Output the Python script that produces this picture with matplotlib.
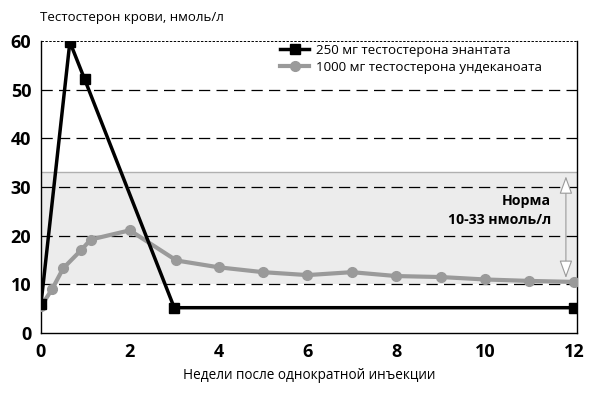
import matplotlib
matplotlib.use("Agg")
import matplotlib.pyplot as plt

plt.rcParams['font.family'] = ['Open Sans', 'DejaVu Sans']

# данные
weeks_enanthate = [0, 0.65, 0.98, 3.0, 12.0]
t_enanthate = [6.0, 59.8, 52.2, 5.2, 5.2]

weeks_undecanoate = [0, 0.25, 0.5, 0.9, 1.12, 2.0, 3.05, 4.0, 5.0, 6.0, 7.0, 8.0, 9.0, 10.0, 11.0, 12.0]
t_undecanoate = [5.5, 9.0, 13.3, 17.0, 19.2, 21.1, 14.9, 13.5, 12.5, 11.9, 12.5, 11.7, 11.5, 11.0, 10.7, 10.5]

label_enanthate = "250 мг тестостерона энантата"
label_undecanoate = "1000 мг тестостерона ундеканоата"
norm_low, norm_high = 10, 33

fig = plt.figure(figsize=(6.02, 3.94), dpi=100)
ax = fig.add_axes([41/602, 1 - 333/394, (577-41)/602, (333-41)/394])

ax.set_xlim(0, 12.07)
ax.set_ylim(0, 60)

# зона нормы
ax.axhspan(norm_low, norm_high, facecolor='#ececec', edgecolor='none', zorder=0)
ax.axhline(norm_high, color='#b0b0b0', lw=1.0, zorder=1)

# сетка
for y in [10, 20, 30, 40, 50]:
    ax.axhline(y, color='black', lw=0.9, dashes=(9, 5), zorder=1)
ax.axhline(60, color='black', lw=0.7, dashes=(2.5, 1.5), zorder=1)

ax.plot(weeks_undecanoate, t_undecanoate, color='#9a9a9a', lw=3, marker='o',
        markersize=7, label=label_undecanoate, zorder=3)
ax.plot(weeks_enanthate, t_enanthate, color='black', lw=2.5, marker='s',
        markersize=7.5, label=label_enanthate, zorder=4)

# стрелка нормы
ax.annotate('', xy=(11.82, 11.3), xytext=(11.82, 32.2),
            arrowprops=dict(arrowstyle='<|-|>,head_length=1.1,head_width=0.4',
                            facecolor='white', edgecolor='#9a9a9a', lw=0.8,
                            shrinkA=0, shrinkB=0), zorder=5)
ax.text(11.48, 25.2, "Норма\n10-33 нмоль/л", ha='right', va='center',
        fontsize=10.2, fontweight='bold', linespacing=1.5)

handles, labels = ax.get_legend_handles_labels()
ax.legend(handles[::-1], labels[::-1], loc='upper left', frameon=False,
          fontsize=9.6, handlelength=2.2, handletextpad=0.5, labelspacing=0.3,
          bbox_to_anchor=((280-41)/536, (333-44)/292), borderaxespad=0, borderpad=0)

ax.spines['top'].set_visible(False)
for side in ['left', 'bottom', 'right']:
    ax.spines[side].set_linewidth(1.0)

ax.set_xticks(range(0, 13, 2))
ax.set_yticks(range(0, 61, 10))
ax.tick_params(length=0, labelsize=13, pad=7)
for lab in ax.get_xticklabels() + ax.get_yticklabels():
    lab.set_fontweight('bold')

ax.set_xlabel("Недели после однократной инъекции", fontsize=9.8, labelpad=5)
fig.text(40/602, 1 - 18/394, "Тестостерон крови, нмоль/л", fontsize=9.5,
         ha='left', va='center')

fig.savefig("out.png", dpi=100)
